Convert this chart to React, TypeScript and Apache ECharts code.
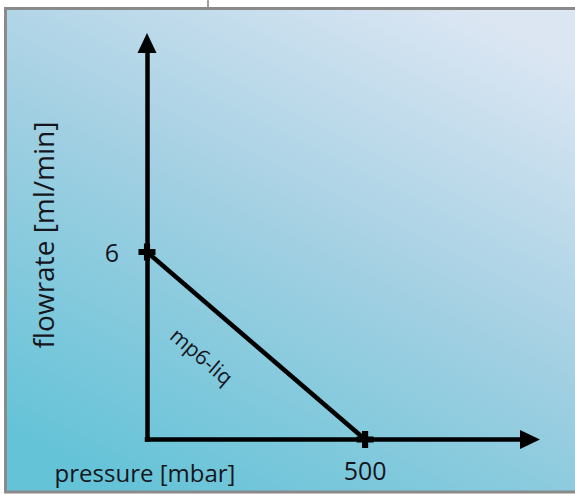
import React, { useEffect, useRef } from "react";
import * as echarts from "echarts";

const pressure = [0, 500];
const flowrate = [6, 0];
const xTickValues = [500];
const yTickValues = [6];
const seriesName = "mp6-liq";
const xTitle = "pressure [mbar]";
const yTitle = "flowrate [ml/min]";

const CROSS = "path://M3.2,0H6.8V3.2H10V6.8H6.8V10H3.2V6.8H0V3.2H3.2Z";
const FONT = "Open Sans";
const INK = "#15151c";

export default function App() {
  const ref = useRef<HTMLDivElement>(null);
  useEffect(() => {
    if (!ref.current) return;
    const chart = echarts.init(ref.current, null, { renderer: "svg" });
    const data = pressure.map((p, i) => [p, flowrate[i]]);
    chart.setOption({
      animation: false,
      grid: { left: 147, top: 43, right: 45, bottom: 54.5, outerBoundsMode: "none" },
      xAxis: {
        type: "value",
        min: 0,
        max: 878,
        splitLine: { show: false },
        axisTick: { show: false },
        axisLine: {
          show: true,
          symbol: ["none", "triangle"],
          symbolSize: [19, 20],
          lineStyle: { color: "#000", width: 4.5, cap: "square" },
        },
        axisLabel: {
          customValues: xTickValues,
          fontSize: 25,
          fontFamily: FONT,
          fontWeight: 500,
          color: INK,
          margin: 18,
        },
      },
      yAxis: {
        type: "value",
        min: 0,
        max: 12.69,
        splitLine: { show: false },
        axisTick: { show: false },
        axisLine: {
          show: true,
          symbol: ["none", "triangle"],
          symbolSize: [19, 20],
          lineStyle: { color: "#000", width: 4.5, cap: "square" },
        },
        axisLabel: {
          customValues: yTickValues,
          fontSize: 25,
          fontFamily: FONT,
          fontWeight: 500,
          color: INK,
          margin: 28,
        },
      },
      series: [
        {
          name: seriesName,
          type: "line",
          data,
          clip: false,
          symbol: CROSS,
          symbolSize: 17,
          itemStyle: { color: "#000", borderWidth: 0 },
          lineStyle: { color: "#000", width: 4.5 },
          z: 5,
        },
      ],
      graphic: {
        elements: [
          {
            type: "rect",
            z: -100,
            silent: true,
            shape: { x: 5.5, y: 8.5, width: 580, height: 483.5 },
            style: {
              fill: new echarts.graphic.LinearGradient(
                0.2, 1, 0.8, 0,
                [
                  { offset: 0, color: "#64c3d7" },
                  { offset: 0.5, color: "#a0cfe2" },
                  { offset: 1, color: "#dce6f3" },
                ]
              ),
              stroke: "#8a8a8a",
              lineWidth: 3,
            },
          },
          {
            type: "line",
            z: -100,
            silent: true,
            shape: { x1: 208, y1: 0, x2: 208, y2: 7 },
            style: { stroke: "#9aa0aa", lineWidth: 2 },
          },
          {
            type: "text",
            x: 43,
            y: 235,
            rotation: Math.PI / 2,
            style: {
              text: yTitle,
              fontSize: 28,
              fontFamily: FONT,
              fontWeight: 500,
              fill: INK,
              align: "center",
              verticalAlign: "middle",
            },
          },
          {
            type: "text",
            x: 145,
            y: 472,
            style: {
              text: xTitle,
              fontSize: 24,
              fontFamily: FONT,
              fontWeight: 500,
              fill: INK,
              align: "center",
              verticalAlign: "middle",
            },
          },
          {
            type: "text",
            x: 202,
            y: 356,
            rotation: -40.5 * Math.PI / 180,
            style: {
              text: seriesName,
              fontSize: 21,
              fontFamily: FONT,
              fontWeight: 500,
              fill: INK,
              align: "center",
              verticalAlign: "middle",
            },
          },
        ],
      },
    });
    return () => chart.dispose();
  }, []);
  return (
    <div
      ref={ref}
      style={{ position: "absolute", left: 0, top: 0, width: 575, height: 494 }}
    />
  );
}
